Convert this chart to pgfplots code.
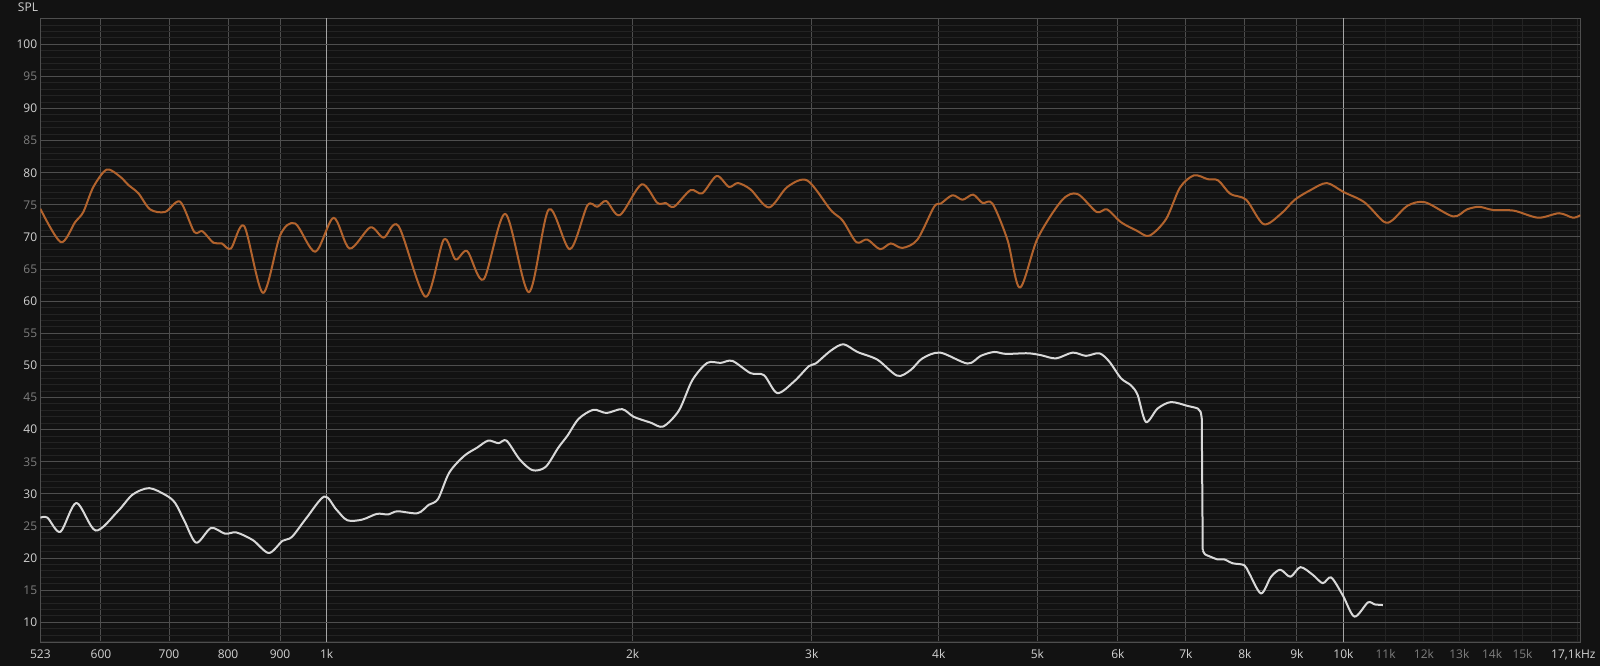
\documentclass[border=0pt]{standalone}
\usepackage{fontspec}
\setmainfont{Open Sans}
\usepackage{pgfplots}
\pgfplotsset{compat=1.18}
\usetikzlibrary{backgrounds}

\definecolor{bg}{HTML}{121212}
\definecolor{gridmin}{HTML}{232323}
\definecolor{gridmid}{HTML}{353535}
\definecolor{gridmaj}{HTML}{4E4E4E}
\definecolor{gridhi}{HTML}{A5A5A5}
\definecolor{txt}{HTML}{D2D2D2}
\definecolor{txtdim}{HTML}{7E7E7E}
\definecolor{splcol}{HTML}{B2632D}
\definecolor{refcol}{HTML}{D8D8D8}

\begin{document}
\begin{tikzpicture}[font=\fontsize{12}{14}\selectfont]
\begin{axis}[name=main,
  scale only axis, width=1540pt, height=624pt,
  xmode=log, xmin=523, xmax=17100, ymin=6.9, ymax=104.05,
  axis line style={gridmaj, line width=1pt},
  major tick length=0pt, minor tick length=0pt,
  grid=both,
  minor grid style={gridmin, line width=1pt},
  major grid style={gridmaj, line width=1pt},
  /pgf/number format/assume math mode=true,
  xtick={523,600,700,800,900,2000,3000,4000,5000,6000,7000,8000,9000},
  xticklabels={523,600,700,800,900,2k,3k,4k,5k,6k,7k,8k,9k},
  extra x ticks={1000,10000}, extra x tick labels={1k,10k},
  extra x tick style={major grid style={gridhi, line width=1pt}},
  minor xtick={11000,12000,13000,14000,15000,16000,17000},
  xticklabel style={text=txt, anchor=base, yshift=-16.7pt, inner sep=0pt},
  ytick={15,25,...,95},
  minor ytick={7,...,104},
  extra y ticks={10,20,...,100},
  extra y tick style={major grid style={gridmaj, line width=1pt}, yticklabel style={text=txt}},
  yticklabel style={text=txtdim, anchor=east, xshift=-3pt, inner sep=0pt},
]
% SPL curve
\addplot[splcol, line width=2pt, smooth, line join=round] coordinates {
(523,74.4)(547.8,69.2)(565.8,72.3)(576.5,73.9)(589.8,77.8)(607.9,80.5)(626.5,79.4)
(638.4,78.1)(653.1,76.8)(670.6,74.3)(693.8,73.9)(717.8,75.5)(741,70.8)(755,70.9)
(774.1,69.1)(788.9,69.0)(805.2,68.2)(829.8,71.7)(865.7,61.3)(900.4,70.3)(931.5,72.1)
(974.7,67.7)(1016,73.0)(1053.5,68.2)(1104,71.5)(1138,69.9)(1177,71.7)(1251,60.7)
(1304,69.6)(1339,66.5)(1375,67.8)(1427,63.4)(1499,73.6)(1581,61.4)(1654,74.3)
(1735,68.1)(1805,74.9)(1846,74.7)(1884,75.6)(1943,73.4)(2041,78.2)(2115,75.3)
(2155,75.3)(2196,74.7)(2280,77.3)(2341,76.8)(2419,79.5)(2487,77.8)(2538,78.4)
(2612,77.4)(2723,74.6)(2839,77.8)(2970,78.8)(3132,74.2)(3216,72.6)(3302,69.6)
(3339,69.1)(3403,69.6)(3502,68.1)(3588,69.0)(3684,68.3)(3812,69.6)(3958,74.7)
(4018,75.2)(4126,76.5)(4221,75.8)(4323,76.6)(4416,75.3)(4517,75.2)(4674,69.5)
(4806,62.1)(5003,69.8)(5285,75.7)(5475,76.7)(5718,73.9)(5854,74.3)(6043,72.3)
(6260,71.0)(6444,70.2)(6693,72.8)(6907,77.7)(7130,79.6)(7356,79.0)(7533,78.8)
(7743,76.7)(8023,75.8)(8345,72.0)(8679,73.6)(8957,75.8)(9281,77.3)(9630,78.4)
(10002,77.0)(10488,75.4)(10952,72.4)(11168,72.6)(11571,74.9)(12034,75.4)(12818,73.2)
(13228,74.3)(13599,74.7)(14034,74.2)(14711,74.1)(15544,73.0)(16297,73.7)(16819,73.0)
(17100,73.4)
};
% reference curve, three pieces around the steep drop
\addplot[refcol, line width=2pt, smooth, line join=round] coordinates {
(523,26.3)(531.5,26.3)(547.3,24.1)(567.5,28.6)(592.8,24.3)(623.3,27.3)(644.6,29.9)
(669.2,30.9)(695.1,29.8)(709.7,28.6)(724.8,25.8)(744.5,22.4)(769.9,24.7)(794.8,23.8)
(815.1,24.0)(846.4,22.8)(877.4,20.8)(905.1,22.7)(924.4,23.3)(955.9,26.3)(995,29.6)
(1022,27.6)(1048,25.9)(1084,26.0)(1121,26.9)(1150,26.8)(1174,27.3)(1229,27.0)
(1260,28.3)(1287,29.2)(1320,33.3)(1365,35.9)(1406,37.2)(1442,38.3)(1476,37.9)
(1503,38.3)(1548,35.4)(1594,33.7)(1642,34.2)(1690,37.2)(1726,39.1)(1770,41.7)
(1830,43.1)(1885,42.6)(1953,43.2)(2005,42.0)(2083,41.1)(2143,40.5)(2221,43.0)
(2289,47.7)(2368,50.4)(2441,50.4)(2507,50.7)(2612,48.8)(2692,48.5)(2775,45.7)
(2882,47.5)(2981,49.9)(3027,50.3)(3132,52.3)(3223,53.3)(3327,52.1)(3481,50.9)
(3642,48.4)(3754,49.3)(3855,51.1)(4012,52.0)(4269,50.3)(4399,51.5)(4534,52.1)
(4656,51.8)(4891,51.9)(5041,51.6)(5215,51.1)(5416,52.0)(5582,51.5)(5753,51.9)
(5885,50.6)(6043,48.0)(6181,46.9)(6275,45.4)(6394,41.2)(6566,43.3)(6767,44.3)
(7028,43.7)(7190,43.3)(7235,42.8)(7255,41.8)
};
\addplot[refcol, line width=2pt, line join=round] coordinates {(7255,41.8)(7272,21.2)};
\addplot[refcol, line width=2pt, smooth, line join=round] coordinates {
(7272,21.2)(7310,20.6)(7381,20.3)(7523,19.8)(7637,19.8)(7783,19.2)(7990,18.9)
(8081,17.6)(8298,14.5)(8488,17.1)(8669,18.2)(8868,17.1)(9071,18.6)(9330,17.4)
(9543,16.1)(9725,17.0)(9986,14.2)(10252,10.9)(10569,13.1)(10729,12.8)(10935,12.7)
};
\end{axis}
\begin{axis}[
  scale only axis, width=1540pt, height=624pt,
  xmode=log, xmin=523, xmax=17100, ymin=6.9, ymax=104.05,
  axis line style={draw=none},
  major tick length=0pt, minor tick length=0pt,
  ytick=\empty,
  xtick={11000,12000,13000,14000,15000},
  xticklabels={11k,12k,13k,14k,15k},
  xticklabel style={text=txtdim, anchor=base, yshift=-16.7pt, inner sep=0pt},
]
\end{axis}
\node[text=txt, anchor=center, inner sep=0pt] at ([xshift=-12.3pt, yshift=10.8pt]main.north west) {SPL};
\node[text=txt, anchor=base east, inner sep=0pt] at ([xshift=15.4pt, yshift=-16.7pt]main.south east) {17,1kHz};
\begin{scope}[on background layer]
\fill[bg] ([xshift=-40.3pt,yshift=-23.7pt]main.south west) rectangle ([xshift=19.7pt,yshift=18.3pt]main.north east);
\end{scope}
\end{tikzpicture}
\end{document}
